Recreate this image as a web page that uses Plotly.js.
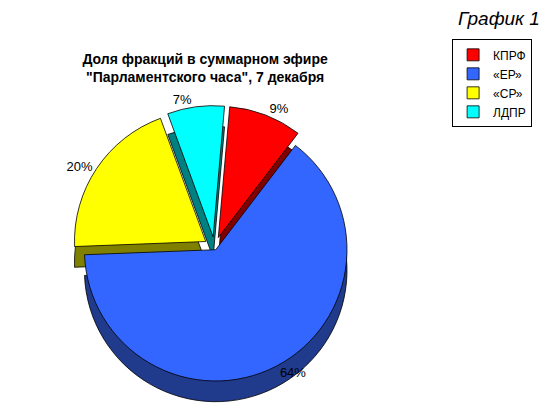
<!DOCTYPE html>
<html><head><meta charset="utf-8">
<script src="https://cdn.plot.ly/plotly-3.0.1.min.js"></script>
<style>html,body{margin:0;padding:0;background:#fff;}#c{width:550px;height:414px;}</style>
</head><body><div id="c"></div>
<script>
const labels = ["КПРФ", "«ЕР»", "«СР»", "ЛДПР"];
const values = [9, 64, 20, 7];
const topColors = ["#ff0000", "#3366ff", "#ffff00", "#00ffff"];
const sideColors = ["#800000", "#203a8c", "#808000", "#008080"];
const pulls = [0.08, 0.02, 0.08, 0.08];

const dom = {x: [0.12, 0.66], y: [0.06, 0.745]};
const shift = 0.05;

const sideTrace = {
  type: "pie", labels: labels.map(l => l + " "), values: values, sort: false,
  direction: "clockwise", rotation: 5, pull: pulls,
  marker: {colors: sideColors, line: {color: "#000", width: 0.8}},
  textinfo: "none", hoverinfo: "skip", showlegend: false,
  domain: {x: dom.x, y: [dom.y[0] - shift, dom.y[1] - shift]}
};
const topTrace = {
  type: "pie", labels: labels, values: values, sort: false,
  direction: "clockwise", rotation: 5, pull: pulls,
  marker: {colors: topColors, line: {color: "#000", width: 0.8}},
  texttemplate: "%{value}%", textposition: "outside",
  textfont: {family: "Liberation Sans, Arial, sans-serif", size: 13, color: "#000"},
  hoverinfo: "label+percent",
  domain: dom
};

const layout = {
  width: 550, height: 414,
  margin: {l: 0, r: 0, t: 0, b: 0},
  paper_bgcolor: "#fff",
  font: {family: "Liberation Sans, Arial, sans-serif", color: "#000"},
  title: {
    text: "<b>Доля фракций в суммарном эфире<br>\"Парламентского часа\", 7 декабря</b>",
    x: 0.373, xanchor: "center", y: 0.845, yanchor: "middle",
    font: {size: 14, family: "Liberation Sans, Arial, sans-serif", color: "#000"}
  },
  legend: {
    x: 0.822, y: 0.905, xanchor: "left", yanchor: "top",
    bordercolor: "#000", borderwidth: 1, bgcolor: "#fff",
    font: {size: 12}, itemwidth: 30, tracegroupgap: 0
  },
  annotations: [{
    text: "<i>График 1</i>", xref: "paper", yref: "paper",
    x: 0.985, y: 0.985, xanchor: "right", yanchor: "top", showarrow: false,
    font: {size: 19, family: "Liberation Sans, Arial, sans-serif", color: "#000"}
  }]
};

Plotly.newPlot("c", [sideTrace, topTrace], layout, {displayModeBar: false, staticPlot: true});
</script></body></html>
